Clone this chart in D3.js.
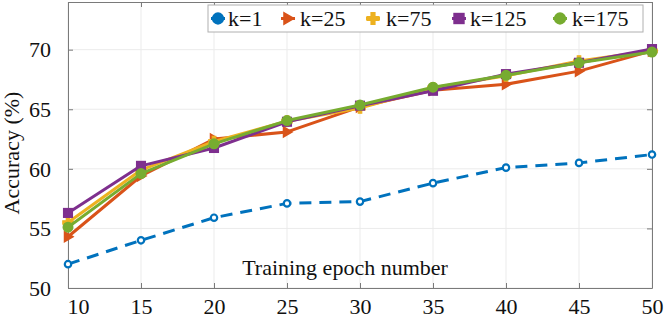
<!DOCTYPE html>
<html><head><meta charset="utf-8">
<script src="https://cdn.jsdelivr.net/npm/d3@7"></script>
<style>body{margin:0;background:#fff}svg{display:block}</style>
</head><body><svg id="c" width="664" height="320"></svg>
<script>
const epochs = [10,15,20,25,30,35,40,45,50];
const k1   = [52.0,54.0,55.9,57.1,57.25,58.8,60.1,60.5,61.2];
const k25  = [54.3,59.4,62.5,63.1,65.2,66.6,67.1,68.2,69.9];
const k75  = [55.5,59.9,62.3,64.0,65.1,66.8,67.8,69.05,69.9];
const k125 = [56.3,60.25,61.75,63.95,65.3,66.55,67.95,68.9,70.05];
const k175 = [55.1,59.6,62.1,64.05,65.35,66.85,67.85,68.9,69.8];
const seriesNames = ["k=1","k=25","k=75","k=125","k=175"];
const yTicks = [50,55,60,65,70];
const xTicks = [10,15,20,25,30,35,40,45,50];

const FONT = '"Liberation Serif","Times New Roman",serif';
const series = [
  {name:seriesNames[0], values:k1, color:"#0072BD", marker:"circleOpen", dash:"12,8"},
  {name:seriesNames[1], values:k25, color:"#D95319", marker:"triangleRight"},
  {name:seriesNames[2], values:k75, color:"#EDB120", marker:"plus"},
  {name:seriesNames[3], values:k125, color:"#7E2F8E", marker:"square"},
  {name:seriesNames[4], values:k175, color:"#77AC30", marker:"circle"}
];

const svg = d3.select("#c");
const L=68, R=652, T=2, B=288;
const x = d3.scaleLinear().domain([10,50]).range([L,R]);
const y = d3.scaleLinear().domain([50,74]).range([B,T]);

// grid
const g = svg.append("g");
g.selectAll(".vg").data(xTicks).enter().append("line")
  .attr("x1",d=>x(d)).attr("x2",d=>x(d)).attr("y1",T).attr("y2",B)
  .attr("stroke","#ebebeb").attr("stroke-width",1);
g.selectAll(".hg").data(yTicks).enter().append("line")
  .attr("y1",d=>y(d)).attr("y2",d=>y(d)).attr("x1",L).attr("x2",R)
  .attr("stroke","#ebebeb").attr("stroke-width",1);

// axes
const axColor="#7a7a7a";
const xa = svg.append("g").attr("transform",`translate(0,${B})`)
  .call(d3.axisBottom(x).tickValues(xTicks).tickSizeInner(-5).tickSizeOuter(0).tickPadding(13));
const ya = svg.append("g").attr("transform",`translate(${L},0)`)
  .call(d3.axisLeft(y).tickValues(yTicks).tickSizeInner(-5).tickSizeOuter(0).tickPadding(17));
svg.append("g").attr("transform",`translate(0,${T})`)
  .call(d3.axisTop(x).tickValues(xTicks).tickSizeInner(-5).tickSizeOuter(0).tickFormat(""));
svg.append("g").attr("transform",`translate(${R},0)`)
  .call(d3.axisRight(y).tickValues(yTicks).tickSizeInner(-5).tickSizeOuter(0).tickFormat(""));
svg.selectAll(".domain").attr("stroke",axColor);
svg.selectAll(".tick line").attr("stroke",axColor);
svg.selectAll(".tick text").style("font-family",FONT).style("font-size","22px").attr("fill","#111");
xa.selectAll(".tick text").attr("dy","0.6em");
xa.selectAll(".tick text").filter(d=>d===xTicks[0]).attr("text-anchor","start").attr("x",-1);
ya.selectAll(".tick text").attr("dy","0.33em");

// titles
svg.append("text").attr("transform",`translate(19,153) rotate(-90)`)
  .attr("text-anchor","middle").style("font-family",FONT).style("font-size","22px").attr("fill","#111").text("Accuracy (%)");
svg.append("text").attr("x",345).attr("y",275).attr("text-anchor","middle")
  .style("font-family",FONT).style("font-size","22px").attr("fill","#111").text("Training epoch number");

function drawMarker(sel, type, color, cx, cy, scale=1){
  if(type==="circleOpen"){
    sel.append("circle").attr("cx",cx).attr("cy",cy).attr("r",3.2*scale).attr("fill","#fff").attr("stroke",color).attr("stroke-width",2.2);
  } else if(type==="circle"){
    sel.append("circle").attr("cx",cx).attr("cy",cy).attr("r",4.5*scale).attr("fill",color).attr("stroke",color).attr("stroke-width",2);
  } else if(type==="square"){
    const s=4.3*scale;
    sel.append("rect").attr("x",cx-s).attr("y",cy-s).attr("width",2*s).attr("height",2*s).attr("fill",color).attr("stroke",color).attr("stroke-width",1.5);
  } else if(type==="triangleRight"){
    const s=5*scale;
    sel.append("path").attr("d",`M${cx+s},${cy} L${cx-s*0.7},${cy-s} L${cx-s*0.7},${cy+s} Z`).attr("fill",color).attr("stroke",color).attr("stroke-width",1.5);
  } else if(type==="plus"){
    sel.append("path").attr("d",d3.symbol(d3.symbolCross, 60*scale*scale)()).attr("transform",`translate(${cx},${cy})`).attr("fill",color).attr("stroke",color).attr("stroke-width",1.2);
  }
}

const line = d3.line().x((d,i)=>x(epochs[i])).y(d=>y(d));
const plot = svg.append("g");
series.forEach(s=>{
  plot.append("path").datum(s.values).attr("d",line).attr("fill","none")
    .attr("stroke",s.color).attr("stroke-width",3).attr("stroke-linejoin","round")
    .attr("stroke-dasharray",s.dash||null);
  s.values.forEach((v,i)=>drawMarker(plot,s.marker,s.color,x(epochs[i]),y(v)));
});

// legend
const lg = svg.append("g");
lg.append("rect").attr("x",208).attr("y",5).attr("width",435).attr("height",27)
  .attr("fill","#fff").attr("stroke","#b0b0b0").attr("stroke-width",1);
const legX = [[211,228],[281,300],[366,386],[452,470],[553,572]];
series.forEach((s,i)=>{
  const [mx,tx]=legX[i];
  lg.append("line").attr("x1",mx).attr("x2",mx+14).attr("y1",18.5).attr("y2",18.5)
    .attr("stroke",s.color).attr("stroke-width",3);
  drawMarker(lg, s.marker==="circleOpen"?"circle":s.marker, s.color, mx+7, 18.5, 1.15);
  lg.append("text").attr("x",tx).attr("y",26).style("font-family",FONT).style("font-size","22px").attr("fill","#111").text(s.name);
});
</script></body></html>
